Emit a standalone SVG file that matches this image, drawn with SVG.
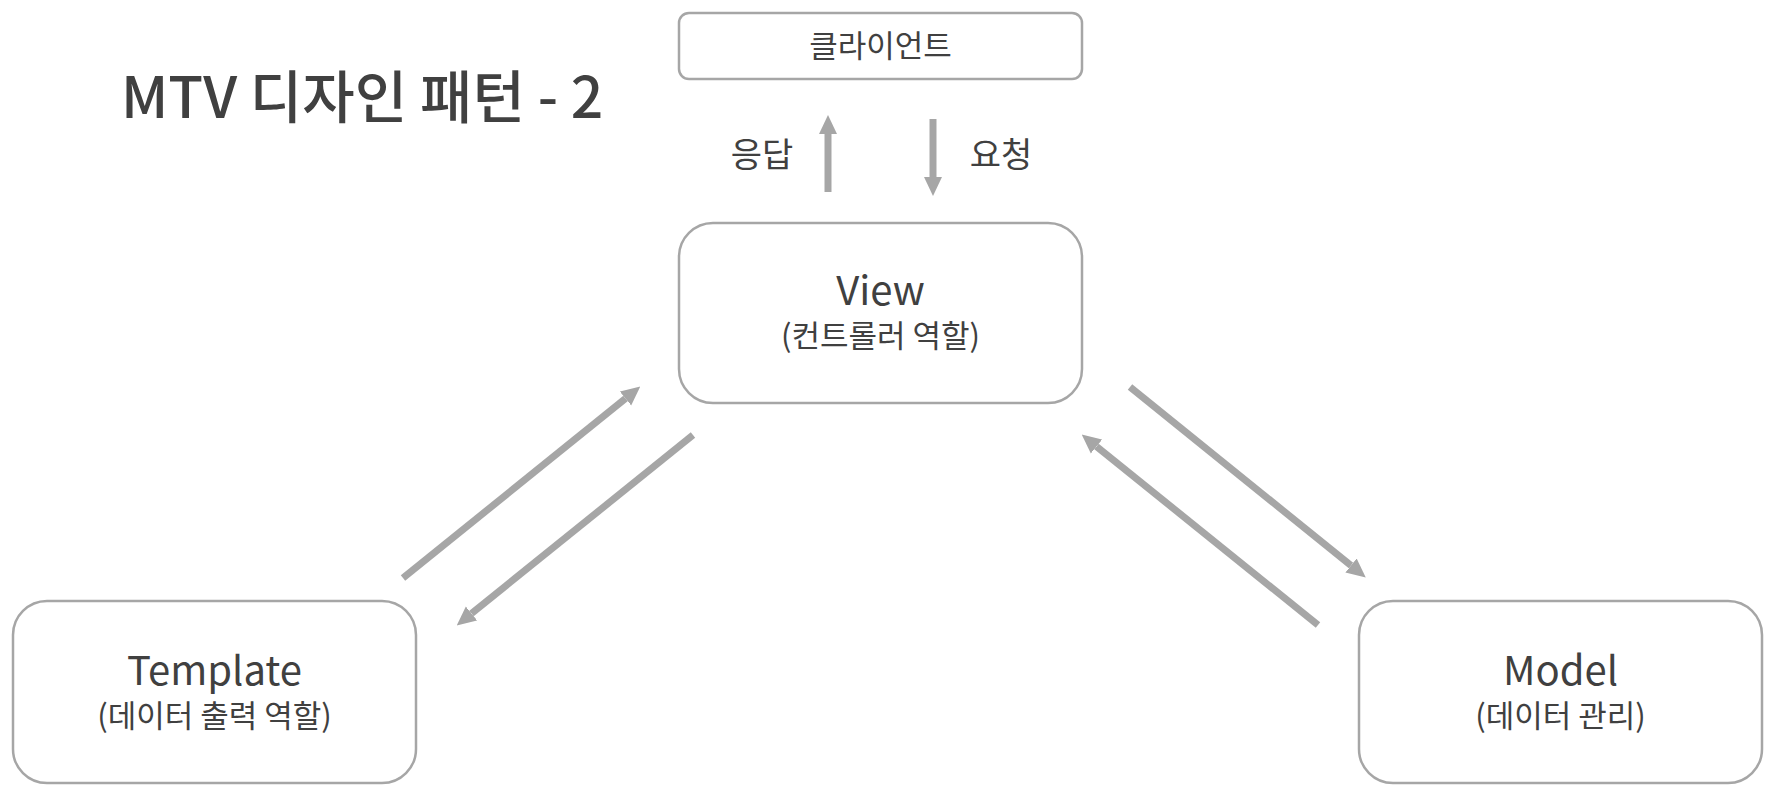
<svg xmlns="http://www.w3.org/2000/svg" width="1774" height="797" viewBox="0 0 1774 797">
<style>
.box{fill:#ffffff;stroke:#a6a6a6;stroke-width:2.5}
.t{font-family:"Noto Sans CJK KR","Noto Sans",sans-serif;fill:#404040;text-anchor:middle}
.main{font-size:40px}
.sub{font-size:31px}
.conn{stroke:#a6a6a6;stroke-width:7;fill:none;marker-end:url(#ah)}
</style>
<defs>
<marker id="ah" markerUnits="userSpaceOnUse" markerWidth="19" markerHeight="19" refX="0" refY="9" orient="auto" viewBox="0 0 19 18">
<path d="M0,0 L19,9 L0,18 z" fill="#a6a6a6"/>
</marker>
</defs>
<rect width="1774" height="797" fill="#ffffff"/>
<text id="title" class="t" x="121" y="118" style="text-anchor:start;font-size:57px;font-weight:500">MTV 디자인 패턴 - 2</text>
<g id="client">
<rect class="box" x="679" y="13" width="403" height="66" rx="10"/>
<text class="t" x="880.5" y="57" style="font-size:31px">클라이언트</text>
</g>
<g id="view">
<rect class="box" x="679" y="223" width="403" height="180" rx="34"/>
<text class="t main" x="880.5" y="305">View</text>
<text class="t sub" x="880.5" y="347">(컨트롤러 역할)</text>
</g>
<g id="template">
<rect class="box" x="13" y="601" width="403" height="182" rx="34"/>
<text class="t main" x="214.5" y="685">Template</text>
<text class="t sub" x="214.5" y="727">(데이터 출력 역할)</text>
</g>
<g id="model">
<rect class="box" x="1359" y="601" width="403" height="182" rx="34"/>
<text class="t main" x="1560.5" y="685">Model</text>
<text class="t sub" x="1560.5" y="727">(데이터 관리)</text>
</g>
<g id="connectors">
<line class="conn" x1="828" y1="192" x2="828" y2="134"/>
<line class="conn" x1="933" y1="119" x2="933" y2="177"/>
<line class="conn" x1="403" y1="578" x2="625.5" y2="398.5"/>
<line class="conn" x1="693" y1="435" x2="471.5" y2="613.5"/>
<line class="conn" x1="1130" y1="387" x2="1351" y2="565.5"/>
<line class="conn" x1="1318" y1="625" x2="1096.5" y2="446.5"/>
</g>
<g id="labels">
<text class="t" x="762" y="167" style="font-size:34px">응답</text>
<text class="t" x="1001" y="167" style="font-size:34px">요청</text>
</g>
</svg>
